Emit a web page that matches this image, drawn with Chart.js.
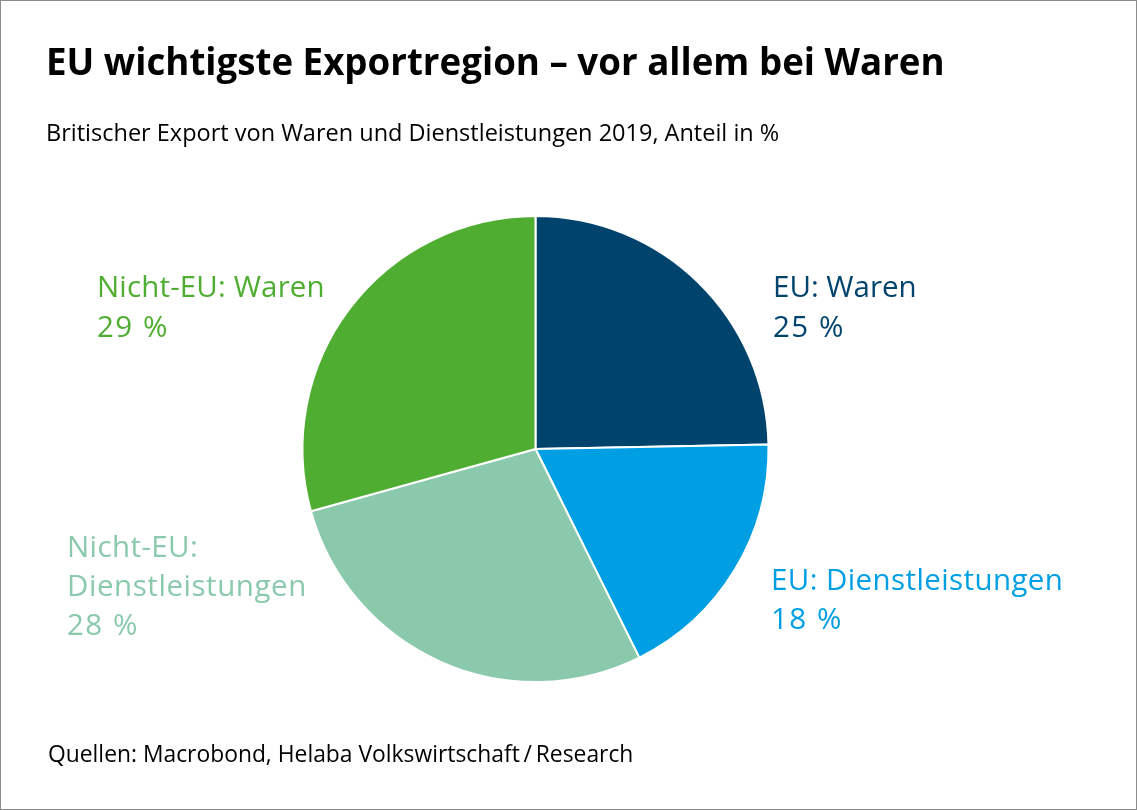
<!DOCTYPE html>
<html>
<head>
<meta charset="utf-8">
<title>EU wichtigste Exportregion</title>
<script src="https://cdn.jsdelivr.net/npm/chart.js@4"></script>
<style>
  html, body { margin: 0; padding: 0; background: #fff; }
  #wrap { position: relative; width: 1137px; height: 810px; overflow: hidden; }
  #frame { position: absolute; left: 0; top: 0; width: 1135px; height: 808px; border: 1px solid #8c8c8c; pointer-events: none; }
</style>
</head>
<body>
<div id="wrap">
  <canvas id="pie" width="1137" height="810"></canvas>
  <div id="frame"></div>
</div>
<script>
const categories = ["EU: Waren", "EU: Dienstleistungen", "Nicht-EU: Dienstleistungen", "Nicht-EU: Waren"];
const shares = [24.7, 17.95, 28.05, 29.3];
const shareLabels = ["25 %", "18 %", "28 %", "29 %"];
const sliceColors = ["#00446e", "#009fe3", "#8bc9ad", "#4fae32"];
const titleText = "EU wichtigste Exportregion \u2013 vor allem bei Waren";
const subtitleText = "Britischer Export von Waren und Dienstleistungen 2019, Anteil in %";
const sourceText = "Quellen: Macrobond, Helaba Volkswirtschaft\u2009/\u2009Research";

// Slice labels sit outside the pie, so they are drawn by hand
const labelPlugin = {
  id: "labelPlugin",
  afterDraw(chart) {
    const ctx = chart.ctx;
    ctx.save();
    ctx.textBaseline = "alphabetic";
    ctx.textAlign = "left";

    ctx.fillStyle = "#000";
    ctx.font = "bold 36.7px 'Open Sans'";
    ctx.fillText(titleText, 46, 75);
    ctx.font = "23.5px 'Open Sans'";
    ctx.fillText(subtitleText, 46, 141);
    ctx.font = "22.85px 'Open Sans'";
    ctx.fillText(sourceText, 48, 762);

    ctx.font = "29.5px 'Open Sans'";
    const drawText = (text, x, y, spacing) => {
      ctx.letterSpacing = spacing + "px";
      ctx.fillText(text, x, y);
    };

    ctx.fillStyle = sliceColors[0];
    drawText("EU: Waren", 773, 297, 0);
    drawText(shareLabels[0], 773, 337, 1.5);

    ctx.fillStyle = sliceColors[1];
    drawText(categories[1], 771, 590, 0.4);
    drawText(shareLabels[1], 771, 629, 1.5);

    ctx.fillStyle = sliceColors[2];
    drawText("Nicht-EU:", 67, 557, 0.4);
    drawText("Dienstleistungen", 67, 596, 0.55);
    drawText(shareLabels[2], 67, 635, 1.5);

    ctx.fillStyle = sliceColors[3];
    drawText(categories[3], 97, 297, 0.15);
    drawText(shareLabels[3], 97, 337, 1.5);
    ctx.restore();
  }
};

new Chart(document.getElementById("pie").getContext("2d"), {
  type: "pie",
  data: {
    labels: categories,
    datasets: [{
      data: shares,
      backgroundColor: sliceColors,
      borderColor: "#fff",
      borderWidth: 2
    }]
  },
  options: {
    responsive: false,
    animation: false,
    layout: { padding: { top: 215, bottom: 127, left: 0, right: 66 } },
    plugins: {
      legend: { display: false },
      tooltip: { enabled: false }
    }
  },
  plugins: [labelPlugin]
});
</script>
</body>
</html>
